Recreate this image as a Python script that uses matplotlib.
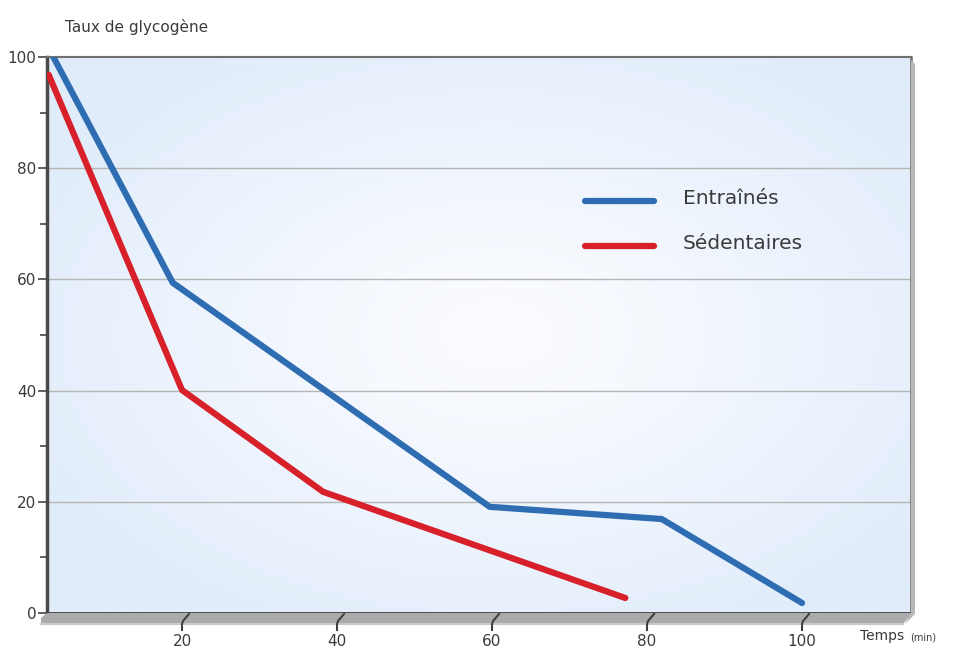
import numpy as np
import matplotlib
matplotlib.use("Agg")
import matplotlib.pyplot as plt
from matplotlib.lines import Line2D
from matplotlib.patches import Polygon

# Glycogen level (%) against exercise time (min)
entraines_t = [3.4, 18.8, 59.7, 81.9, 100.0]
entraines_y = [100.0, 59.4, 19.1, 16.9, 1.8]
sedentaires_t = [2.8, 20.0, 38.2, 77.2]
sedentaires_y = [96.8, 40.1, 21.8, 2.7]

series_labels = ["Entraînés", "Sédentaires"]
series_colors = ["#2f6db3", "#d7202a"]

x_ticks = [20, 40, 60, 80, 100]
y_ticks = [0, 20, 40, 60, 80, 100]
y_minor = [10, 30, 50, 70, 90]

plt.rcParams["font.family"] = ["DejaVu Sans"]
TEXT = "#3a3a3a"

W, H = 970, 660
fig = plt.figure(figsize=(W / 100, H / 100), dpi=100)
fig.patch.set_facecolor("white")


def fx(px):
    return px / W


def fy(py):
    return 1 - py / H


L, R, T, B = 47, 911, 57, 613
ax = fig.add_axes([fx(L), fy(B), fx(R) - fx(L), fy(T) - fy(B)])

# soft radial background of the plot wall
ny, nx = 300, 500
yy, xx = np.mgrid[0:1:ny * 1j, 0:1:nx * 1j]
d = np.sqrt(((xx - 0.52) / 0.62) ** 2 + ((yy - 0.5) / 0.62) ** 2)
t = np.clip(d, 0, 1) ** 1.2
c0 = np.array([251, 252, 255]) / 255
c1 = np.array([224, 236, 250]) / 255
img = c0 * (1 - t[..., None]) + c1 * t[..., None]
ax.imshow(img, extent=(0, 1, 0, 1), transform=ax.transAxes, aspect="auto",
          zorder=0, interpolation="bilinear")

ax.set_xlim(2.58, 114.06)
ax.set_ylim(0, 100)

for g in y_ticks[1:-1]:
    ax.axhline(g, color="#b4b4b4", lw=1.0, zorder=1)

# series
ax.plot(entraines_t, entraines_y, color=series_colors[0], lw=4.5,
        solid_capstyle="round", solid_joinstyle="round", zorder=3)
ax.plot(sedentaires_t, sedentaires_y, color=series_colors[1], lw=4.5,
        solid_capstyle="round", solid_joinstyle="round", zorder=3)

# frame
ax.spines["top"].set_color("#707070")
ax.spines["top"].set_linewidth(1.5)
ax.spines["right"].set_color("#6a6a6a")
ax.spines["right"].set_linewidth(1.8)
ax.spines["left"].set_color("#4a4a4a")
ax.spines["left"].set_linewidth(2.5)
ax.spines["bottom"].set_color("#3c3c3c")
ax.spines["bottom"].set_linewidth(2.0)

ax.set_xticks([])
ax.set_yticks(y_ticks)
ax.set_yticklabels([str(v) for v in y_ticks])
ax.set_yticks(y_minor, minor=True)
ax.tick_params(axis="y", which="major", length=6.5, width=1.3, color="#555555",
               labelsize=11, labelcolor=TEXT, pad=1)
ax.tick_params(axis="y", which="minor", length=5, width=1.3, color="#555555")

# floor slab under the plot
floor = Polygon([(fx(L), fy(B)), (fx(R), fy(B)), (fx(R), fy(B + 2)),
                 (fx(R - 8), fy(B + 11)), (fx(L - 6), fy(B + 11)),
                 (fx(L - 6), fy(B + 5))],
                closed=True, transform=fig.transFigure, facecolor="#ababab",
                edgecolor="none", zorder=0)
fig.patches.append(floor)
fig.add_artist(Line2D([fx(L - 6), fx(R - 8)], [fy(B + 11), fy(B + 11)],
                      transform=fig.transFigure, color="#c9c9c9", lw=1.5))
# shade along right wall
shade = Polygon([(fx(R), fy(T + 3)), (fx(R + 4), fy(T + 7)), (fx(R + 4), fy(B + 1)),
                 (fx(R - 6), fy(B + 11)), (fx(R), fy(B))],
                closed=True, transform=fig.transFigure, facecolor="#b9b9b9",
                edgecolor="none", zorder=0)
fig.patches.append(shade)

# x ticks on the floor, with labels
for v in x_ticks:
    px = ax.transData.transform((v, 0))[0]
    fig.add_artist(Line2D([fx(px + 7), fx(px + 1), fx(px), fx(px)],
                          [fy(B + 1), fy(B + 8), fy(B + 11), fy(B + 17)],
                          transform=fig.transFigure, color="#404040", lw=1.5))
    fig.text(fx(px), fy(641), str(v), ha="center", va="center",
             fontsize=11, color=TEXT)

fig.text(fx(65), fy(27), "Taux de glycogène", ha="left", va="center",
         fontsize=11, color=TEXT)
fig.text(fx(860), fy(636), "Temps", ha="left", va="center",
         fontsize=10, color=TEXT)
fig.text(fx(910), fy(638), "(min)", ha="left", va="center",
         fontsize=7, color=TEXT)

# legend
for i, (lab, col) in enumerate(zip(series_labels, series_colors)):
    yl = 201 + 45 * i
    fig.add_artist(Line2D([fx(585), fx(654)], [fy(yl), fy(yl)],
                          transform=fig.transFigure, color=col, lw=4.5,
                          solid_capstyle="round"))
    fig.text(fx(683), fy(yl - 2), lab, ha="left", va="center",
             fontsize=14.5, color=TEXT)

fig.savefig("out.png", dpi=100)
